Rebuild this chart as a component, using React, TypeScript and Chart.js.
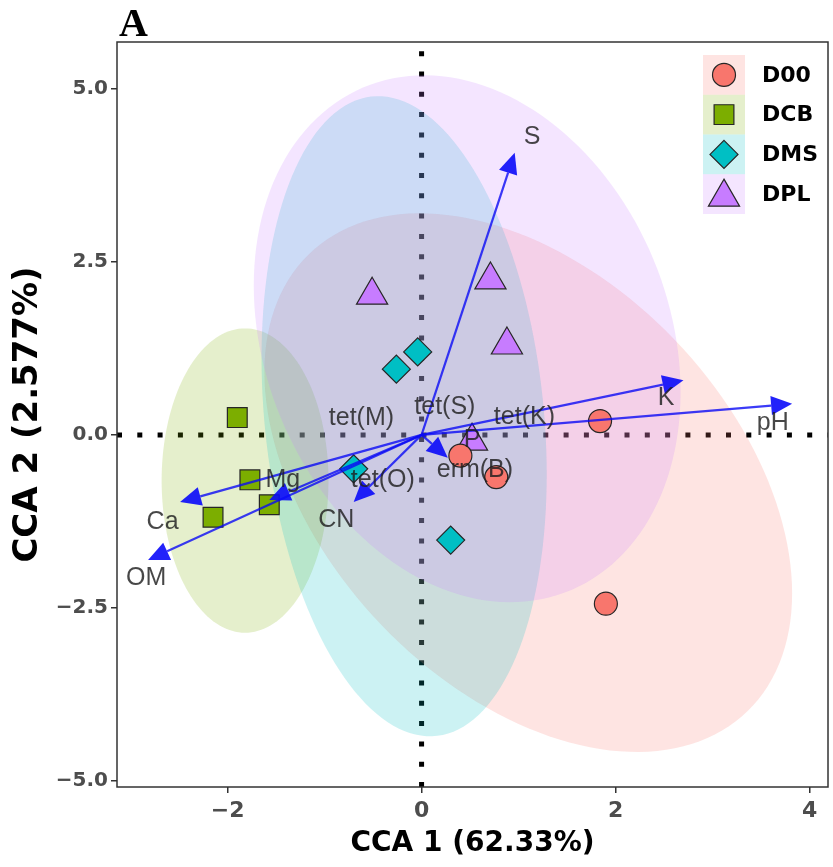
import React, { useEffect, useRef } from 'react';
import { Chart, registerables } from 'chart.js';

Chart.register(...registerables);

// ---------- data ----------
const GROUPS = ['D00', 'DCB', 'DMS', 'DPL'];
const GROUP_COLORS = ['#F8766D', '#7CAE00', '#00BFC4', '#C77CFF'];
const GROUP_SHAPES = ['circle', 'rect', 'rectRot', 'triangle'];

const D00_X = [1.84, 1.90, 0.77, 0.40];
const D00_Y = [0.20, -2.44, -0.61, -0.30];
const DCB_X = [-1.90, -1.77, -1.57, -2.15];
const DCB_Y = [0.25, -0.65, -1.01, -1.19];
const DMS_X = [-0.04, -0.26, -0.70, 0.30];
const DMS_Y = [1.20, 0.95, -0.49, -1.52];
const DPL_X = [-0.51, 0.71, 0.88, 0.52];
const DPL_Y = [2.02, 2.24, 1.30, -0.09];

// confidence ellipses: centre and two conjugate semi-axis vectors (data units)
const ELL_CX = [1.10, -1.82, -0.18, 0.47];
const ELL_CY = [-0.69, -0.66, 0.27, 1.39];
const ELL_UX = [2.72, 0.86, 1.47, 2.20];
const ELL_UY = [-1.60, 0.0, -0.84, -0.77];
const ELL_VX = [0.0, 0.0, 0.0, 0.0];
const ELL_VY = [-3.55, 2.20, 4.55, 3.73];

// biplot arrows (environmental factors)
const ARROW_NAMES = ['S', 'K', 'pH', 'Ca', 'OM', 'Mg', 'CN', 'erm(B)'];
const ARROW_X = [0.96, 2.70, 3.82, -2.49, -2.82, -1.57, -0.70, 0.27];
const ARROW_Y = [4.08, 0.79, 0.45, -0.97, -1.81, -0.94, -0.97, -0.33];

// text labels
const LABEL_NAMES = ['S', 'K', 'pH', 'Ca', 'OM', 'Mg', 'CN', 'tet(M)', 'tet(S)', 'tet(K)', 'P', 'erm(B)', 'tet(O)'];
const LABEL_X = [1.14, 2.52, 3.62, -2.67, -2.84, -1.43, -0.88, -0.62, 0.24, 1.06, 0.52, 0.55, -0.40];
const LABEL_Y = [4.31, 0.53, 0.17, -1.26, -2.07, -0.65, -1.23, 0.25, 0.40, 0.26, -0.07, -0.51, -0.65];

const X_TICKS = [-2, 0, 2, 4];
const X_TICK_LABELS = ['\u22122', '0', '2', '4'];
const Y_TICKS = [-5, -2.5, 0, 2.5, 5];
const Y_TICK_LABELS = ['\u22125.0', '\u22122.5', '0.0', '2.5', '5.0'];

const X_MIN = -3.14;
const X_MAX = 4.19;
const Y_MIN = -5.09;
const Y_MAX = 5.68;

const X_TITLE = 'CCA 1 (62.33%)';
const Y_TITLE = 'CCA 2 (2.577%)';
const PANEL_TAG = 'A';

// ---------- helpers ----------
const GROUP_XS = [D00_X, DCB_X, DMS_X, DPL_X];
const GROUP_YS = [D00_Y, DCB_Y, DMS_Y, DPL_Y];
const GROUP_RADII = [11.5, 14, 14, 18];

function rgba(hex: string, a: number) {
  const n = parseInt(hex.slice(1), 16);
  return `rgba(${(n >> 16) & 255},${(n >> 8) & 255},${n & 255},${a})`;
}

function drawMarker(ctx: CanvasRenderingContext2D, shape: string, x: number, y: number, r: number, fill: string) {
  ctx.beginPath();
  if (shape === 'circle') {
    ctx.arc(x, y, r, 0, Math.PI * 2);
  } else if (shape === 'rect') {
    const s = Math.SQRT1_2 * r;
    ctx.rect(x - s, y - s, 2 * s, 2 * s);
  } else if (shape === 'rectRot') {
    ctx.moveTo(x, y - r);
    ctx.lineTo(x + r, y);
    ctx.lineTo(x, y + r);
    ctx.lineTo(x - r, y);
    ctx.closePath();
  } else {
    ctx.moveTo(x, y - r);
    ctx.lineTo(x + r * Math.sin((2 * Math.PI) / 3), y + r / 2);
    ctx.lineTo(x - r * Math.sin((2 * Math.PI) / 3), y + r / 2);
    ctx.closePath();
  }
  ctx.fillStyle = fill;
  ctx.fill();
  ctx.lineWidth = 1.2;
  ctx.strokeStyle = '#262626';
  ctx.stroke();
}

const biplotPlugin = {
  id: 'biplot',
  beforeDatasetsDraw(chart: any) {
    const { ctx, chartArea: a, scales } = chart;
    const xs = scales.x;
    const ys = scales.y;
    ctx.save();
    ctx.beginPath();
    ctx.rect(a.left, a.top, a.right - a.left, a.bottom - a.top);
    ctx.clip();
    // zero reference lines
    const x0 = xs.getPixelForValue(0);
    const y0 = ys.getPixelForValue(0);
    ctx.strokeStyle = '#000';
    ctx.lineWidth = 5;
    ctx.lineCap = 'butt';
    ctx.setLineDash([5, 15.3]);
    ctx.beginPath();
    ctx.moveTo(x0, a.bottom);
    ctx.lineTo(x0, a.top);
    ctx.stroke();
    ctx.beginPath();
    ctx.moveTo(a.left, y0);
    ctx.lineTo(a.right, y0);
    ctx.stroke();
    ctx.setLineDash([]);
    // ellipses
    for (let i = 0; i < GROUPS.length; i++) {
      ctx.beginPath();
      const N = 160;
      for (let k = 0; k <= N; k++) {
        const t = (k / N) * Math.PI * 2;
        const dx = ELL_CX[i] + ELL_UX[i] * Math.cos(t) + ELL_VX[i] * Math.sin(t);
        const dy = ELL_CY[i] + ELL_UY[i] * Math.cos(t) + ELL_VY[i] * Math.sin(t);
        const px = xs.getPixelForValue(dx);
        const py = ys.getPixelForValue(dy);
        if (k === 0) ctx.moveTo(px, py);
        else ctx.lineTo(px, py);
      }
      ctx.closePath();
      ctx.fillStyle = rgba(GROUP_COLORS[i], 0.2);
      ctx.fill();
    }
    ctx.restore();
  },
  afterDatasetsDraw(chart: any) {
    const { ctx, scales } = chart;
    const xs = scales.x;
    const ys = scales.y;
    ctx.save();
    // arrows
    const ox = xs.getPixelForValue(0);
    const oy = ys.getPixelForValue(0);
    for (let i = 0; i < ARROW_NAMES.length; i++) {
      const tx = xs.getPixelForValue(ARROW_X[i]);
      const ty = ys.getPixelForValue(ARROW_Y[i]);
      const L = Math.hypot(tx - ox, ty - oy);
      const ux = (tx - ox) / L;
      const uy = (ty - oy) / L;
      const hl = 21;
      const hw = 9.5;
      const bx = tx - ux * hl;
      const by = ty - uy * hl;
      ctx.strokeStyle = 'rgba(10,10,245,0.8)';
      ctx.lineWidth = 2.2;
      ctx.beginPath();
      ctx.moveTo(ox, oy);
      ctx.lineTo(bx, by);
      ctx.stroke();
      ctx.fillStyle = 'rgba(10,10,250,0.9)';
      ctx.beginPath();
      ctx.moveTo(tx, ty);
      ctx.lineTo(bx - uy * hw, by + ux * hw);
      ctx.lineTo(bx + uy * hw, by - ux * hw);
      ctx.closePath();
      ctx.fill();
    }
    // labels
    ctx.font = '25px "Liberation Sans", Arial, sans-serif';
    ctx.textAlign = 'center';
    ctx.textBaseline = 'middle';
    ctx.fillStyle = 'rgba(30,30,30,0.82)';
    for (let i = 0; i < LABEL_NAMES.length; i++) {
      ctx.fillText(LABEL_NAMES[i], xs.getPixelForValue(LABEL_X[i]), ys.getPixelForValue(LABEL_Y[i]));
    }
    ctx.restore();
  },
  afterDraw(chart: any) {
    const { ctx, chartArea: a } = chart;
    ctx.save();
    // panel border
    ctx.strokeStyle = '#333';
    ctx.lineWidth = 1.5;
    ctx.strokeRect(a.left, a.top, a.right - a.left, a.bottom - a.top);
    // legend
    const kx = 703;
    const kw = 42;
    const top = 55;
    const rh = 39.75;
    for (let i = 0; i < GROUPS.length; i++) {
      const ry = top + i * rh;
      ctx.fillStyle = rgba(GROUP_COLORS[i], 0.2);
      ctx.fillRect(kx, ry, kw, rh);
    }
    for (let i = 0; i < GROUPS.length; i++) {
      const cy = top + i * rh + rh / 2;
      const my = GROUP_SHAPES[i] === 'triangle' ? cy + 3 : cy;
      drawMarker(ctx, GROUP_SHAPES[i], kx + kw / 2, my, GROUP_RADII[i], GROUP_COLORS[i]);
      ctx.fillStyle = '#000';
      ctx.font = 'bold 22px "DejaVu Sans", sans-serif';
      ctx.textAlign = 'left';
      ctx.textBaseline = 'middle';
      ctx.fillText(GROUPS[i], 762, cy + 1);
    }
    // panel tag
    ctx.fillStyle = '#000';
    ctx.font = 'bold 40px "Liberation Serif", "Times New Roman", serif';
    ctx.textAlign = 'left';
    ctx.textBaseline = 'alphabetic';
    ctx.fillText(PANEL_TAG, 119, 36);
    ctx.restore();
  },
};

export default function App() {
  const ref = useRef<HTMLCanvasElement | null>(null);
  useEffect(() => {
    if (!ref.current) return;
    const tickFontY = { family: '"DejaVu Sans", sans-serif', weight: 'bold' as const, size: 20 };
    const tickFontX = { family: '"DejaVu Sans", sans-serif', weight: 'bold' as const, size: 22 };
    const chart = new Chart(ref.current, {
      type: 'scatter',
      data: {
        datasets: GROUPS.map((g, i) => ({
          label: g,
          data: GROUP_XS[i].map((x, j) => ({ x, y: GROUP_YS[i][j] })),
          pointStyle: GROUP_SHAPES[i] as any,
          pointRadius: GROUP_RADII[i],
          pointHoverRadius: GROUP_RADII[i],
          backgroundColor: GROUP_COLORS[i],
          borderColor: '#262626',
          borderWidth: 1.2,
        })),
      },
      options: {
        animation: false,
        responsive: false,
        maintainAspectRatio: false,
        events: [],
        layout: { autoPadding: false, padding: { top: 42, right: 5, left: 0, bottom: 0 } },
        plugins: {
          legend: { display: false },
          tooltip: { enabled: false },
        },
        scales: {
          x: {
            type: 'linear',
            min: X_MIN,
            max: X_MAX,
            afterBuildTicks: (s: any) => {
              s.ticks = X_TICKS.map((v) => ({ value: v }));
            },
            afterFit: (s: any) => {
              s.height = 80;
              s.paddingLeft = 0;
              s.paddingRight = 0;
              s.paddingTop = 0;
              s.paddingBottom = 0;
            },
            ticks: {
              autoSkip: false,
              maxRotation: 0,
              padding: 5,
              color: '#4d4d4d',
              font: tickFontX,
              callback: (_v: any, i: number) => X_TICK_LABELS[i],
            },
            grid: { drawOnChartArea: false, drawTicks: true, tickLength: 6, color: '#333', lineWidth: 1.5 },
            border: { display: false },
            title: {
              display: true,
              text: X_TITLE,
              color: '#000',
              font: { family: '"DejaVu Sans", sans-serif', weight: 'bold', size: 28 },
              padding: { top: 0, bottom: 6 },
            },
          },
          y: {
            type: 'linear',
            min: Y_MIN,
            max: Y_MAX,
            afterBuildTicks: (s: any) => {
              s.ticks = Y_TICKS.map((v) => ({ value: v }));
            },
            afterFit: (s: any) => {
              s.width = 117;
              s.paddingLeft = 0;
              s.paddingRight = 0;
              s.paddingTop = 0;
              s.paddingBottom = 0;
            },
            ticks: {
              autoSkip: false,
              padding: 3,
              color: '#4d4d4d',
              font: tickFontY,
              callback: (_v: any, i: number) => Y_TICK_LABELS[i],
            },
            grid: { drawOnChartArea: false, drawTicks: true, tickLength: 6, color: '#333', lineWidth: 1.5 },
            border: { display: false },
            title: {
              display: true,
              text: Y_TITLE,
              color: '#000',
              font: { family: '"DejaVu Sans", sans-serif', weight: 'bold', size: 34 },
              padding: { top: 8, bottom: 0 },
            },
          },
        },
      },
      plugins: [biplotPlugin],
    });
    return () => chart.destroy();
  }, []);
  return (
    <div style={{ position: 'absolute', left: 0, top: 0, width: 833, height: 867, background: '#fff' }}>
      <canvas ref={ref} width={833} height={867} style={{ display: 'block' }} />
    </div>
  );
}
